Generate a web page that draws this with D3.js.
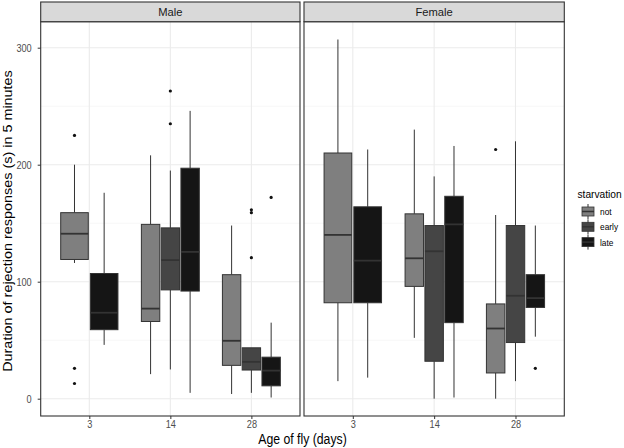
<!DOCTYPE html>
<html><head><meta charset="utf-8">
<script src="https://cdn.jsdelivr.net/npm/d3@7"></script>
<style>body{margin:0;background:#fff;} text{font-family:"Liberation Sans",Arial,sans-serif;}</style>
</head><body><svg id="c" width="624" height="448"></svg>
<script>
const sexes = ["Male", "Female"];
const ages = ["3", "14", "28"];
const starvation = ["not", "early", "late"];
const fills = ["#7f7f7f", "#454545", "#151515"];
const yTicks = [0, 100, 200, 300];
const yMinor = [50, 150, 250];

// one entry per box
const boxSex   = ["Male","Male","Male","Male","Male","Male","Male","Male","Female","Female","Female","Female","Female","Female","Female","Female"];
const boxAge   = ["3","3","14","14","14","28","28","28","3","3","14","14","14","28","28","28"];
const boxStarv = ["not","late","not","early","late","not","early","late","not","late","not","early","late","not","early","late"];
const whiskLo  = [116, 46, 21, 25, 5, 4, 5, 1, 15, 18, 52, 0, 1, 0, 15, 53];
const q1       = [119, 59, 66, 93, 92, 28.5, 24.5, 11, 82, 82, 96, 32, 65, 22, 48, 78];
const medians  = [141, 73.5, 77, 118.5, 125.5, 49.5, 31.5, 24, 140, 118, 120, 126, 149, 60, 88, 86];
const q3       = [159, 107, 149, 146, 197, 106, 43.5, 35.5, 210, 164, 158, 148, 173, 81, 148, 106];
const whiskHi  = [200, 176, 208, 195, 246, 148, 43.5, 65, 307, 213, 230, 190, 216, 157, 220, 148];
const outliers = [[225, 26, 13], [], [], [263, 235], [], [], [161.5, 159, 120.5], [172], [], [], [], [], [], [213], [], [26]];

const SX = 0.85; // horizontal squeeze of the reference's text
function squish(sel, s) {
  sel.each(function () {
    const w = this.getComputedTextLength();
    d3.select(this).attr("textLength", w * s).attr("lengthAdjust", "spacingAndGlyphs");
  });
}

const svg = d3.select("#c");
const panelX = {Male: [40.7, 300], Female: [304, 564.3]};
const panelTop = 21.7, panelBottom = 416, stripTop = 2;

const y = d3.scaleLinear().domain([0, 300]).range([398.7, 47.7]);
const fillScale = d3.scaleOrdinal().domain(starvation).range(fills);

sexes.forEach(sex => {
  const [x0, x1] = panelX[sex];
  const x = d3.scalePoint().domain(ages).range([x0, x1]).padding(0.6);
  const g = svg.append("g");
  g.selectAll(".ymin").data(yMinor).join("line")
    .attr("x1", x0).attr("x2", x1).attr("y1", d => y(d)).attr("y2", d => y(d))
    .attr("stroke", "#f2f2f2").attr("stroke-width", 0.6);
  g.selectAll(".ymaj").data(yTicks).join("line")
    .attr("x1", x0).attr("x2", x1).attr("y1", d => y(d)).attr("y2", d => y(d))
    .attr("stroke", "#ebebeb").attr("stroke-width", 1.1);
  g.selectAll(".xmaj").data(ages).join("line")
    .attr("x1", d => x(d)).attr("x2", d => x(d)).attr("y1", panelTop).attr("y2", panelBottom)
    .attr("stroke", "#ebebeb").attr("stroke-width", 1.1);

  const idx = d3.range(boxSex.length).filter(i => boxSex[i] === sex);
  const step = x.step();
  const groupW = 0.732 * step;
  idx.forEach(i => {
    const inGroup = idx.filter(j => boxAge[j] === boxAge[i])
      .sort((a, b) => starvation.indexOf(boxStarv[a]) - starvation.indexOf(boxStarv[b]));
    const n = inGroup.length, k = inGroup.indexOf(i);
    const slot = groupW / n;
    const cx = x(boxAge[i]) - groupW / 2 + slot * (k + 0.5);
    const bw = slot * 0.93;
    const stroke = "#333";
    g.append("line").attr("x1", cx).attr("x2", cx).attr("y1", y(q3[i])).attr("y2", y(whiskHi[i]))
      .attr("stroke", stroke).attr("stroke-width", 1);
    g.append("line").attr("x1", cx).attr("x2", cx).attr("y1", y(q1[i])).attr("y2", y(whiskLo[i]))
      .attr("stroke", stroke).attr("stroke-width", 1);
    g.append("rect").attr("x", cx - bw / 2).attr("width", bw)
      .attr("y", y(q3[i])).attr("height", y(q1[i]) - y(q3[i]))
      .attr("fill", fillScale(boxStarv[i])).attr("stroke", stroke).attr("stroke-width", 1);
    g.append("line").attr("x1", cx - bw / 2).attr("x2", cx + bw / 2)
      .attr("y1", y(medians[i])).attr("y2", y(medians[i]))
      .attr("stroke", stroke).attr("stroke-width", 1.8);
    g.selectAll(null).data(outliers[i]).join("circle")
      .attr("cx", cx).attr("cy", d => y(d)).attr("r", 1.6).attr("fill", "#111");
  });

  g.append("rect").attr("x", x0).attr("y", panelTop).attr("width", x1 - x0).attr("height", panelBottom - panelTop)
    .attr("fill", "none").attr("stroke", "#333").attr("stroke-width", 1.1);
  g.append("rect").attr("x", x0).attr("y", stripTop).attr("width", x1 - x0).attr("height", panelTop - stripTop)
    .attr("fill", "#d9d9d9").attr("stroke", "#333").attr("stroke-width", 1.1);
  g.append("text").attr("x", (x0 + x1) / 2).attr("y", (stripTop + panelTop) / 2 + 4)
    .attr("text-anchor", "middle").attr("font-size", 11.2).attr("fill", "#1a1a1a").text(sex);

  const xa = svg.append("g").attr("transform", `translate(0,${panelBottom})`)
    .call(d3.axisBottom(x).tickSize(3).tickPadding(1.5));
  xa.select(".domain").remove();
  xa.selectAll("line").attr("stroke", "#333");
  xa.selectAll("text").attr("font-size", 10.8).attr("fill", "#4d4d4d")
    .attr("font-family", "Liberation Sans, Arial, sans-serif").call(squish, SX);
});

const ya = svg.append("g").attr("transform", `translate(${panelX.Male[0]},0)`)
  .call(d3.axisLeft(y).tickValues(yTicks).tickSize(3).tickPadding(6));
ya.select(".domain").remove();
ya.selectAll("line").attr("stroke", "#333");
ya.selectAll("text").attr("font-size", 10.8).attr("fill", "#4d4d4d")
  .attr("font-family", "Liberation Sans, Arial, sans-serif").call(squish, SX);

svg.append("text").attr("x", (panelX.Male[0] + panelX.Female[1]) / 2).attr("y", 444)
  .attr("text-anchor", "middle").attr("font-size", 14).attr("fill", "#000").text("Age of fly (days)")
  .call(squish, 0.875);
svg.append("text").attr("transform", `translate(11.5,221) rotate(-90) scale(1,${SX})`)
  .attr("text-anchor", "middle").attr("font-size", 14.4).attr("fill", "#000")
  .text("Duration of rejection responses (s) in 5 minutes");

const lg = svg.append("g");
lg.append("text").attr("x", 577.5).attr("y", 198).attr("font-size", 10.2).attr("fill", "#000").text("starvation");
starvation.forEach((s, i) => {
  const cy = 211.5 + i * 15.3;
  const kx = 582, kw = 12;
  lg.append("line").attr("x1", kx + kw / 2).attr("x2", kx + kw / 2).attr("y1", cy - 7.5).attr("y2", cy + 7.5)
    .attr("stroke", "#333").attr("stroke-width", 1);
  lg.append("rect").attr("x", kx).attr("y", cy - 4.5).attr("width", kw).attr("height", 9)
    .attr("fill", fillScale(s)).attr("stroke", "#333").attr("stroke-width", 0.8);
  lg.append("line").attr("x1", kx).attr("x2", kx + kw).attr("y1", cy).attr("y2", cy)
    .attr("stroke", "#333").attr("stroke-width", 1.5);
  lg.append("text").attr("x", 600).attr("y", cy + 3.5).attr("font-size", 9.8).attr("fill", "#000").text(s)
    .call(squish, SX);
});
</script></body></html>
